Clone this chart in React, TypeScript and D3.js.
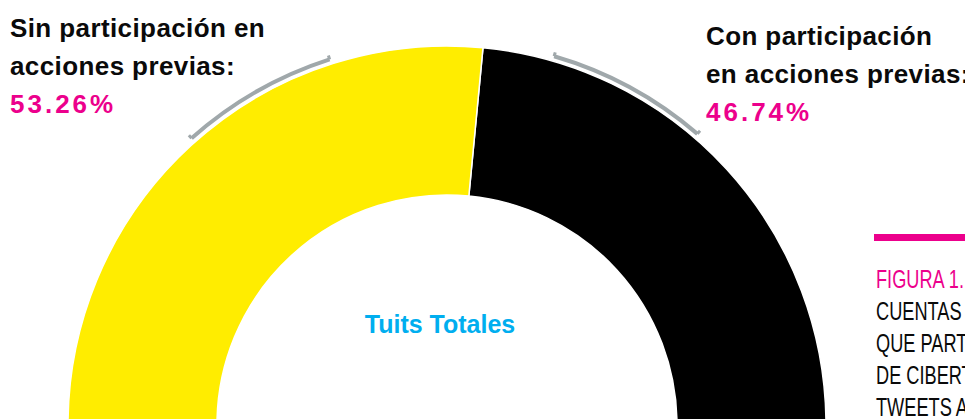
import React, { useEffect, useRef } from 'react';
import * as d3 from 'd3';

// chart values
const categories = ['Con participación en acciones previas', 'Sin participación en acciones previas'];
const shares = [46.74, 53.26];
const sliceColors = ['#000000', '#FFED00'];

// label texts
const leftLabel = ['Sin participación en', 'acciones previas:'];
const leftValue = '53.26%';
const rightLabel = ['Con participación', 'en acciones previas:'];
const rightValue = '46.74%';
const centerLabel = 'Tuits Totales';
const captionTitle = 'FIGURA 1.';
const captionLines = ['CUENTAS', 'QUE PART', 'DE CIBERT', 'TWEETS A'];

// bracket arcs next to the labels, in degrees (0 = top, clockwise)
const bracketAngles = [[-41.7, -17.8], [16.2, 40.7]];

const deg = (d: number) => (d * Math.PI) / 180;

function DonutChart({ width, height }: { width: number; height: number }) {
  const svgRef = useRef<SVGSVGElement>(null);

  useEffect(() => {
    const svg = d3.select(svgRef.current);
    svg.selectAll('*').remove();
    svg.attr('width', width).attr('height', height);

    const cx = 447;
    const cy = 425;
    const outer = 379;
    const inner = 230;
    const start = deg(5.45);

    const pie = d3.pie<number>()
      .sort(null)
      .value(d => d)
      .startAngle(start)
      .endAngle(start + 2 * Math.PI);

    const arc = d3.arc<d3.PieArcDatum<number>>()
      .innerRadius(inner)
      .outerRadius(outer);

    const g = svg.append('g').attr('transform', `translate(${cx},${cy})`);

    g.selectAll('path.slice')
      .data(pie(shares))
      .join('path')
      .attr('class', 'slice')
      .attr('d', arc)
      .attr('fill', (d, i) => sliceColors[i])
      .attr('stroke', '#ffffff')
      .attr('stroke-width', 1.5)
      .append('title')
      .text((d, i) => `${categories[i]}: ${shares[i]}%`);

    // grey brackets
    const bracket = d3.arc<any>().innerRadius(382).outerRadius(386);
    bracketAngles.forEach(([a0, a1]) => {
      g.append('path')
        .attr('d', bracket({ startAngle: deg(a0), endAngle: deg(a1) }))
        .attr('fill', '#A0A8AB');
      [a0, a1].forEach(a => {
        const r = deg(a);
        g.append('line')
          .attr('x1', Math.sin(r) * 384).attr('y1', -Math.cos(r) * 384)
          .attr('x2', Math.sin(r) * 388).attr('y2', -Math.cos(r) * 388)
          .attr('stroke', '#A0A8AB')
          .attr('stroke-width', 3);
      });
    });

    const font = "'Liberation Sans', Arial, sans-serif";

    // center label
    svg.append('text')
      .attr('x', 440)
      .attr('y', 333)
      .attr('text-anchor', 'middle')
      .style('font-family', font)
      .style('font-weight', 'bold')
      .style('font-size', '25px')
      .attr('fill', '#00AEEF')
      .text(centerLabel);

    // side labels
    const drawLabel = (x: number, y0: number, lines: string[], value: string) => {
      lines.forEach((t, i) => {
        svg.append('text')
          .attr('x', x)
          .attr('y', y0 + i * 38)
          .style('font-family', font)
          .style('font-weight', 'bold')
          .style('font-size', '26px')
          .style('letter-spacing', '0.4px')
          .attr('fill', '#0a0a0a')
          .text(t);
      });
      svg.append('text')
        .attr('x', x)
        .attr('y', y0 + lines.length * 38)
        .style('font-family', font)
        .style('font-weight', 'bold')
        .style('font-size', '26px')
        .style('letter-spacing', '3px')
        .attr('fill', '#EC008C')
        .text(value);
    };
    drawLabel(10, 37, leftLabel, leftValue);
    drawLabel(706, 45, rightLabel, rightValue);

    // caption on the right
    svg.append('rect')
      .attr('x', 874)
      .attr('y', 234)
      .attr('width', width - 874)
      .attr('height', 7)
      .attr('fill', '#EC008C');

    const cap = svg.append('g').attr('transform', 'translate(876,0) scale(0.7,1)');
    [captionTitle, ...captionLines].forEach((t, i) => {
      cap.append('text')
        .attr('x', 0)
        .attr('y', 288 + i * 32)
        .style('font-family', font)
        .style('font-size', '26px')
        .attr('fill', i === 0 ? '#EC008C' : '#0a0a0a')
        .text(t);
    });
  }, [width, height]);

  return <svg ref={svgRef} style={{ position: 'absolute', left: 0, top: 0, display: 'block' }} />;
}

export default function App() {
  return <DonutChart width={965} height={419} />;
}
